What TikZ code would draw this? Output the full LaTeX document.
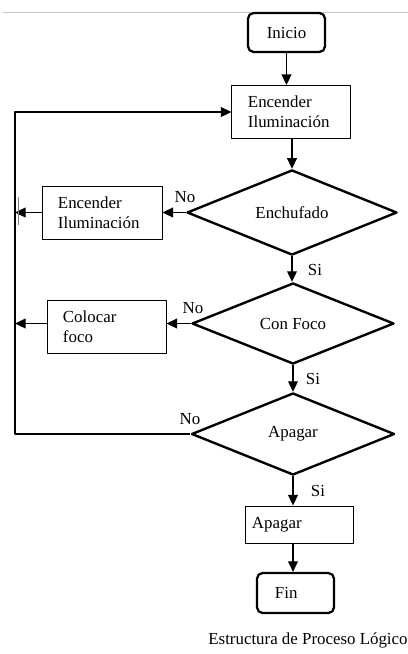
\documentclass[tikz,border=0pt]{standalone}
\usepackage{fontspec}
\setmainfont{Liberation Serif}
\usetikzlibrary{shapes.geometric,arrows.meta}
\begin{document}
\begin{tikzpicture}[x=0.025cm,y=-0.025cm,line join=round,
    every node/.style={font=\fontsize{12}{14}\selectfont},
    term/.style={draw,rounded corners=4pt,line width=1.6pt},
    proc/.style={draw,line width=.7pt,align=left,inner ysep=0pt},
    dec/.style={diamond,draw,line width=1.7pt,inner sep=0pt},
    flow/.style={line width=.8pt,-{Triangle[length=7.5pt,width=7pt]}}]
  \useasboundingbox (0,0) rectangle (408,654);
  \draw[gray!45] (3,12) -- (408,12);
  \node[term,minimum width=1.925cm,minimum height=.975cm] (ini) at (286.5,32.5) {Inicio};
  \node[proc,text width=2.15cm,inner xsep=.4cm,minimum height=1.325cm] (enc) at (291,112) {Encender\\Iluminación};
  \node[dec,minimum width=5.25cm,minimum height=2.025cm] (ench) at (292,212.5) {Enchufado};
  \node[proc,text width=2.225cm,inner xsep=.375cm,minimum height=1.325cm] (enc2) at (102.5,212.5) {Encender\\Iluminación};
  \node[dec,minimum width=5.05cm,minimum height=2.025cm] (conf) at (293,323.5) {Con Foco};
  \node[proc,text width=2.2cm,inner xsep=.375cm,minimum height=1.325cm] (col) at (107,327) {Colocar\\foco};
  \node[dec,minimum width=5.075cm,minimum height=2.05cm] (apg) at (293,434) {Apagar};
  \node[proc,text width=2.375cm,inner xsep=.15cm,minimum height=.925cm] (apb) at (299.5,524.5) {Apagar};
  \node[term,text width=1.025cm,inner xsep=.45cm,align=left,minimum height=1cm] (fin) at (295.5,593) {Fin};
  \coordinate (lft) at (15,112);
  \node (no1) at (185,197) {No};
  \node (no2) at (193,308) {No};
  \node (no3) at (190,419) {No};
  \node (si1) at (315,270) {Si};
  \node (si2) at (313,379) {Si};
  \node (si3) at (318,491) {Si};
  \node (cap) at (308,640) {Estructura de Proceso Lógico};
  \draw[flow] (ini.south) -- (ini.south |- enc.north);
  \draw[flow] (ench.north |- enc.south) -- (ench.north);
  \draw[flow] (ench.west) -- (ench.west -| enc2.east);
  \draw[flow] (enc2.west) -- (enc2.west -| lft);
  \draw[flow] (ench.south) -- (ench.south |- conf.north);
  \draw[flow] (conf.west) -- (conf.west -| col.east);
  \draw[flow] (conf.west -| col.west) -- (conf.west -| lft);
  \draw[flow] (conf.south) -- (conf.south |- apg.north);
  \draw[flow] (apg.south) -- (apg.south |- apb.north);
  \draw[flow] (apg.south |- apb.south) -- (apg.south |- fin.north);
  \draw[flow] (apg.west) -| (lft) -- (enc.west);
  \draw[gray,line width=.6pt] (18,197) -- (18,225);
\end{tikzpicture}
\end{document}
